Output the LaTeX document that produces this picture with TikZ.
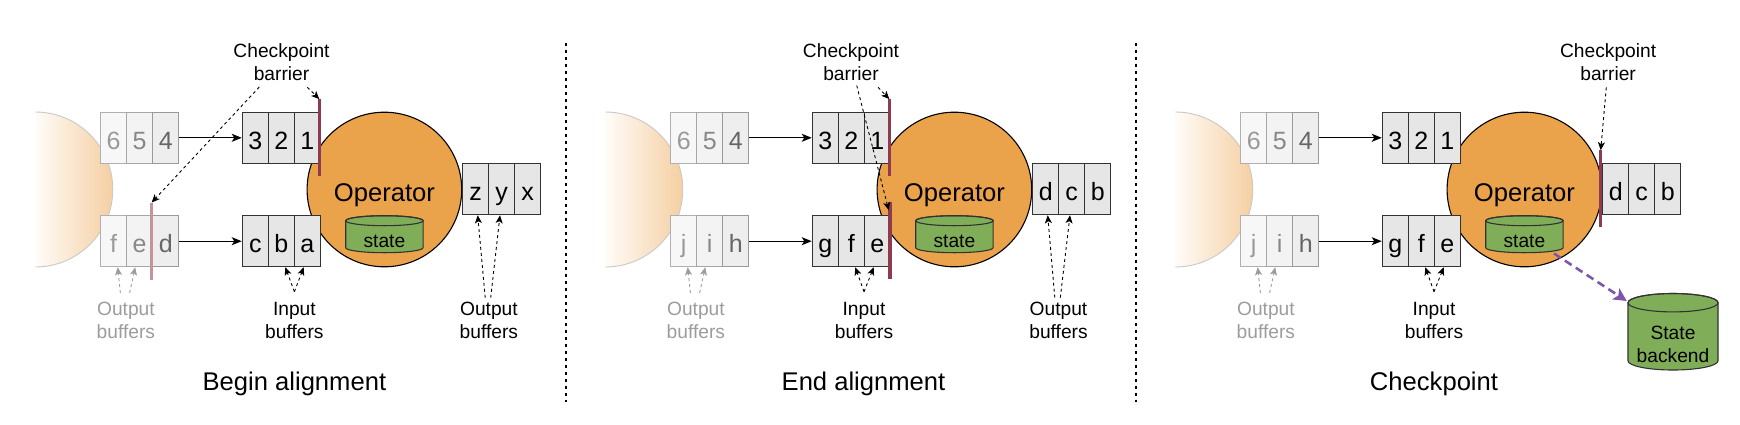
\documentclass[tikz,border=0pt]{standalone}
\usepackage{fontspec}
\setmainfont{Liberation Sans}
\usetikzlibrary{arrows.meta,calc}
\definecolor{opfill}{HTML}{EBA34B}
\definecolor{cellfill}{HTML}{E6E6E6}
\definecolor{cellborder}{HTML}{333333}
\definecolor{barcol}{HTML}{8E3A4F}
\definecolor{fadebar}{HTML}{C4949C}
\definecolor{greenfill}{HTML}{80AE58}
\definecolor{cylborder}{HTML}{333333}
\definecolor{halfL}{HTML}{FFFCF8}
\definecolor{halfR}{HTML}{F5CFA2}
\definecolor{halfB}{HTML}{C9C9C9}
\definecolor{purp}{HTML}{7E57A8}
\definecolor{graylbl}{HTML}{9C9C9C}
\definecolor{fAfill}{HTML}{F7F7F7}
\definecolor{fBfill}{HTML}{F3F3F3}
\definecolor{fCfill}{HTML}{EEEEEE}
\definecolor{fAdraw}{HTML}{B0B0B0}
\definecolor{fBdraw}{HTML}{A6A6A6}
\definecolor{fCdraw}{HTML}{9A9A9A}
\definecolor{fAtext}{HTML}{9A9A9A}
\definecolor{fBtext}{HTML}{888888}
\definecolor{fCtext}{HTML}{666666}

\newcommand\activebuf[6]{%
  \node[cellA] (#1a) at ({#2+13},#3) {#4};
  \node[cellA] (#1b) at ({#2+39},#3) {#5};
  \node[cellA] (#1c) at ({#2+65},#3) {#6};}
\newcommand\fadedbuf[6]{%
  \node[cellbase,fill=fAfill,draw=fAdraw,text=fAtext] (#1a) at ({#2+13},#3) {#4};
  \node[cellbase,fill=fBfill,draw=fBdraw,text=fBtext] (#1b) at ({#2+39},#3) {#5};
  \node[cellbase,fill=fCfill,draw=fCdraw,text=fCtext] (#1c) at ({#2+65},#3) {#6};}
% L R T B e
\newcommand\mycyl[5]{%
  \path[fill=greenfill,draw=cylborder,line width=1.1pt] (#1,{#3+#5}) -- (#1,{#4-#5})
    arc[start angle=180,end angle=0,x radius={(#2-#1)/2},y radius=#5]
    -- (#2,{#3+#5})
    arc[start angle=0,end angle=-180,x radius={(#2-#1)/2},y radius=#5] -- cycle;
  \draw[cylborder,line width=1.1pt] ({(#1+#2)/2},{#3+#5}) ellipse[x radius={(#2-#1)/2},y radius=#5];}
\newcommand\halfsrc{%
  \path[left color=halfL,right color=halfR,draw=halfB,line width=0.9pt]
    (35.3,112) arc[start angle=-90,end angle=90,radius=77.5];}

\begin{document}
\begin{tikzpicture}[x=1pt,y=-1pt,
  cellbase/.style={rectangle,draw,minimum width=26pt,minimum height=51pt,inner sep=0pt,
    line width=1.1pt,text height=23pt,text depth=0pt,font=\fontsize{25}{29}\selectfont},
  cellA/.style={cellbase,fill=cellfill,draw=cellborder,text=black},
  opnode/.style={circle,draw=black,line width=1.1pt,fill=opfill,minimum size=154.6pt,inner sep=0pt,
    text height=23.6pt,text depth=0pt,font=\fontsize{25.6}{30}\selectfont},
  statetext/.style={anchor=base,inner sep=0pt,font=\fontsize{19.2}{22}\selectfont},
  barrier/.style={rectangle,fill=barcol,minimum width=3.5pt,minimum height=77pt,inner sep=0pt},
  fbarrier/.style={barrier,fill=fadebar},
  flow/.style={line width=1.2pt,-{Stealth[length=10pt,width=8pt,inset=2.5pt]}},
  dasharrow/.style={line width=0.9pt,dash pattern=on 3pt off 3pt,-{Stealth[length=8pt,width=7pt,inset=2pt]}},
  grayarrow/.style={dasharrow,graylbl},
  lbl/.style={align=center,inner sep=0pt,font=\fontsize{19.2}{23}\selectfont},
  glbl/.style={lbl,text=graylbl},
  ttl/.style={anchor=base,inner sep=0pt,font=\fontsize{25.6}{30}\selectfont},
  sepline/.style={line width=1.2pt,dash pattern=on 3.5pt off 3.5pt},
  purparrow/.style={purp,line width=2.6pt,dash pattern=on 8pt off 5pt,-{Stealth[length=13pt,width=13pt,inset=3pt]}}
]
\useasboundingbox (0,0) rectangle (1740,424);

% separators
\draw[sepline] (566,42.7) -- (566,402);
\draw[sepline] (1136,42.7) -- (1136,402);

% ================= Panel 1 =================
\begin{scope}
  \halfsrc
  \node[opnode] (Aop) at (384.4,189.5) {Operator};
  \mycyl{345.7}{423.1}{215.7}{252.7}{5}
  \node[statetext] (Ast) at (384.4,247.7) {state};
  \fadedbuf{Ao1}{100.7}{137.8}{6}{5}{4}
  \fadedbuf{Ao2}{100.7}{241.2}{f}{e}{d}
  \activebuf{Ai1}{242.3}{137.8}{3}{2}{1}
  \activebuf{Ai2}{242.3}{241.2}{c}{b}{a}
  \activebuf{Aou}{462.7}{189.2}{z}{y}{x}
  \draw[flow] (Ao1c) -- (Ai1a);
  \draw[flow] (Ao2c) -- (Ai2a);
  \node[barrier] (Abar1) at (319.3,137.8) {};
  \node[fbarrier] (Abar2) at (151.7,241.2) {};
  \node[lbl] (Acb) at (281.5,62.5) {Checkpoint\\barrier};
  \coordinate (AcbS1) at (307.4,87.3);
  \coordinate (AcbS2) at (259.3,87);
  \draw[dasharrow] (AcbS1) -- (Abar1.north);
  \draw[dasharrow] (AcbS2) -- (Abar2.north);
  \node[glbl] (Aglbl) at (125.9,320) {Output\\buffers};
  \coordinate (AgS1) at (120.4,293);
  \coordinate (AgS2) at (129.6,293);
  \draw[grayarrow] (AgS1) -- ([xshift=4pt]Ao2a.south);
  \draw[grayarrow] (AgS2) -- ([xshift=-4.5pt]Ao2b.south);
  \node[lbl] (Ailbl) at (294.4,320) {Input\\buffers};
  \coordinate (AiS) at (294.4,291.7);
  \draw[dasharrow] (AiS) -- ([xshift=4pt]Ai2b.south);
  \draw[dasharrow] (AiS) -- ([xshift=-3.6pt]Ai2c.south);
  \node[lbl] (Aolbl) at (488.9,320) {Output\\buffers};
  \coordinate (AoS1) at (485.2,297.7);
  \coordinate (AoS2) at (490.7,297.7);
  \draw[dasharrow] (AoS1) -- ([xshift=2pt]Aoua.south);
  \draw[dasharrow] (AoS2) -- ([xshift=-1.7pt]Aoub.south);
  \node[ttl] (Attl) at (294.4,390) {Begin alignment};
\end{scope}

% ================= Panel 2 =================
\begin{scope}[xshift=570pt]
  \halfsrc
  \node[opnode] (Bop) at (384.4,189.5) {Operator};
  \mycyl{345.7}{423.1}{215.7}{252.7}{5}
  \node[statetext] (Bst) at (384.4,247.7) {state};
  \fadedbuf{Bo1}{100.7}{137.8}{6}{5}{4}
  \fadedbuf{Bo2}{100.7}{241.2}{j}{i}{h}
  \activebuf{Bi1}{242.3}{137.8}{3}{2}{1}
  \activebuf{Bi2}{242.3}{241.2}{g}{f}{e}
  \activebuf{Bou}{462.7}{189.2}{d}{c}{b}
  \draw[flow] (Bo1c) -- (Bi1a);
  \draw[flow] (Bo2c) -- (Bi2a);
  \node[barrier] (Bbar1) at (319.3,137.8) {};
  \node[barrier] (Bbar2) at (320.2,240.8) {};
  \node[lbl] (Bcb) at (281,62.5) {Checkpoint\\barrier};
  \coordinate (BcbS1) at (308.1,87.3);
  \coordinate (BcbS2) at (286.7,85.5);
  \draw[dasharrow] (BcbS1) -- (Bbar1.north);
  \draw[dasharrow] (BcbS2) -- ([xshift=-1.5pt,yshift=-8pt]Bbar2.north);
  \node[glbl] (Bglbl) at (125.9,320) {Output\\buffers};
  \coordinate (BgS1) at (120.4,293);
  \coordinate (BgS2) at (129.6,293);
  \draw[grayarrow] (BgS1) -- ([xshift=4pt]Bo2a.south);
  \draw[grayarrow] (BgS2) -- ([xshift=-4.5pt]Bo2b.south);
  \node[lbl] (Bilbl) at (294,320) {Input\\buffers};
  \coordinate (BiS) at (294,291.7);
  \draw[dasharrow] (BiS) -- ([xshift=4pt]Bi2b.south);
  \draw[dasharrow] (BiS) -- ([xshift=-3.6pt]Bi2c.south);
  \node[lbl] (Bolbl) at (488.5,320) {Output\\buffers};
  \coordinate (BoS1) at (484.8,297.7);
  \coordinate (BoS2) at (490.3,297.7);
  \draw[dasharrow] (BoS1) -- ([xshift=2pt]Boua.south);
  \draw[dasharrow] (BoS2) -- ([xshift=-1.7pt]Boub.south);
  \node[ttl] (Bttl) at (293.5,390) {End alignment};
\end{scope}

% ================= Panel 3 =================
\begin{scope}[xshift=1140pt]
  \halfsrc
  \node[opnode] (Cop) at (384.4,189.5) {Operator};
  \mycyl{345.7}{423.1}{215.7}{252.7}{5}
  \node[statetext] (Cst) at (384.4,247.7) {state};
  \fadedbuf{Co1}{100.7}{137.8}{6}{5}{4}
  \fadedbuf{Co2}{100.7}{241.2}{j}{i}{h}
  \activebuf{Ci1}{242.3}{137.8}{3}{2}{1}
  \activebuf{Ci2}{242.3}{241.2}{g}{f}{e}
  \activebuf{Cou}{462.7}{189.2}{d}{c}{b}
  \draw[flow] (Co1c) -- (Ci1a);
  \draw[flow] (Co2c) -- (Ci2a);
  \node[barrier] (Cbar) at (460.7,188.9) {};
  \node[lbl] (Ccb) at (468.1,62.5) {Checkpoint\\barrier};
  \coordinate (CcbS) at (466.3,87.3);
  \draw[dasharrow] (CcbS) -- (Cbar.north);
  \node[glbl] (Cglbl) at (125.9,320) {Output\\buffers};
  \coordinate (CgS1) at (120.4,293);
  \coordinate (CgS2) at (129.6,293);
  \draw[grayarrow] (CgS1) -- ([xshift=4pt]Co2a.south);
  \draw[grayarrow] (CgS2) -- ([xshift=-4.5pt]Co2b.south);
  \node[lbl] (Cilbl) at (294,320) {Input\\buffers};
  \coordinate (CiS) at (294,291.7);
  \draw[dasharrow] (CiS) -- ([xshift=4pt]Ci2b.south);
  \draw[dasharrow] (CiS) -- ([xshift=-3.6pt]Ci2c.south);
  % state backend
  \mycyl{488}{578}{293.5}{370}{9.2}
  \node[lbl] (Csb) at (533,344.7) {State\\backend};
  \coordinate (CstOut) at (414,253.5);
  \coordinate (CsbIn) at (486.7,301);
  \draw[purparrow] (CstOut) -- (CsbIn);
  \node[ttl] (Cttl) at (294,390) {Checkpoint};
\end{scope}
\end{tikzpicture}
\end{document}
